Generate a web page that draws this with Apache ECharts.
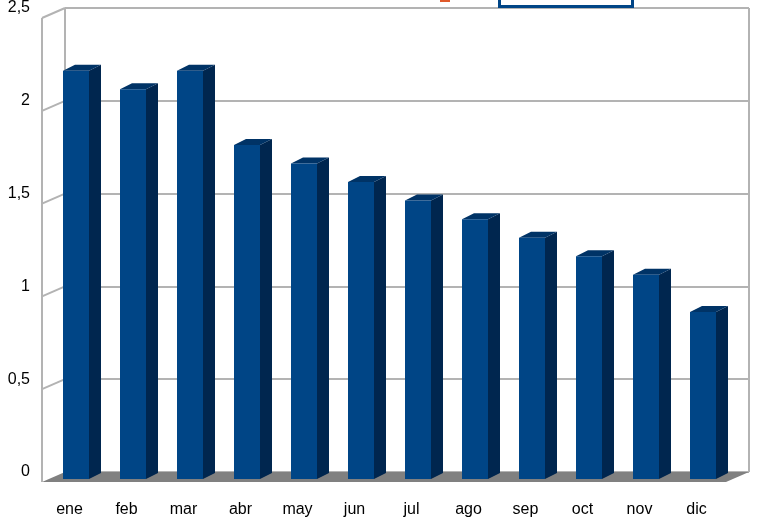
<!DOCTYPE html>
<html><head><meta charset="utf-8">
<script src="https://cdn.jsdelivr.net/npm/echarts@6/dist/echarts.min.js"></script>
<style>html,body{margin:0;padding:0;background:#fff}#c{width:770px;height:527px}</style>
</head><body><div id="c"></div>
<script>
const categories = ['ene','feb','mar','abr','may','jun','jul','ago','sep','oct','nov','dic'];
const values = [2.2,2.1,2.2,1.8,1.7,1.6,1.5,1.4,1.3,1.2,1.1,0.9];
const yTicks = [0,0.5,1,1.5,2,2.5];

const chart = echarts.init(document.getElementById('c'));
const FX = -17.5, FY = 7, HW = 13, DX = 12, DY = -6;
function renderBar(params, api){
  const i = api.value(0), v = api.value(1);
  const p = api.coord([i, v]), p0 = api.coord([i, 0]);
  const cx = p[0] + FX;
  const l = cx - HW, r = cx + HW, t = p[1] + FY, b = p0[1] + FY;
  return {type:'group', children:[
    {type:'polygon', shape:{points:[[r,t],[r+DX,t+DY],[r+DX,b+DY],[r,b]]}, style:{fill:'#00264f'}},
    {type:'polygon', shape:{points:[[l,t],[l+DX,t+DY],[r+DX,t+DY],[r,t]]}, style:{fill:'#003366'}},
    {type:'rect', shape:{x:l, y:t, width:r-l, height:b-t}, style:{fill:'#004586'}}
  ]};
}
chart.setOption({
  animation:false,
  grid:{left:65,right:21,top:7,bottom:55},
  xAxis:{type:'category',data:categories,
    axisLine:{show:false},axisTick:{show:false},
    axisLabel:{color:'#000',fontSize:16,fontFamily:'Liberation Sans',margin:30,padding:[0,48,0,0]}},
  yAxis:{type:'value',min:0,max:2.5,interval:0.5,
    axisLine:{show:false},axisTick:{show:false},
    splitLine:{lineStyle:{color:'#b3b3b3',width:2}},
    axisLabel:{color:'#000',fontSize:16,fontFamily:'Liberation Sans',margin:35,padding:[16,0,0,0],
      formatter:v=>String(v).replace('.',',')}},
  series:[{type:'custom',renderItem:renderBar,data:categories.map((c,i)=>[i,values[i]]),z:5}]
});
const gl = chart.convertToPixel({gridIndex:0},[0,0]);
const L = 65, R = 749, W = 23, H = 10;
const g = [];
const y0 = chart.convertToPixel({yAxisIndex:0},0);
g.push({type:'polygon',shape:{points:[[L,y0],[R,y0],[R-W,y0+H],[L-W,y0+H]]},style:{fill:'#808080'},z:1});
yTicks.forEach(t=>{
  const y = chart.convertToPixel({yAxisIndex:0},t);
  if(t>0) g.push({type:'line',shape:{x1:L-W,y1:y+H,x2:L,y2:y},style:{stroke:'#b3b3b3',lineWidth:2},z:1});
});
const yt = chart.convertToPixel({yAxisIndex:0},2.5);
g.push({type:'line',shape:{x1:L-W,y1:yt+H,x2:L-W,y2:y0+H},style:{stroke:'#b3b3b3',lineWidth:2},z:1});
g.push({type:'line',shape:{x1:L,y1:yt,x2:L,y2:y0},style:{stroke:'#b3b3b3',lineWidth:2},z:1});
g.push({type:'line',shape:{x1:R,y1:yt,x2:R,y2:y0},style:{stroke:'#b3b3b3',lineWidth:2},z:1});
g.push({type:'rect',shape:{x:146,y:-4,width:10,height:6},style:{fill:'#e05a2b'},z:1,left:440,top:-4});
g.push({type:'rect',shape:{x:0,y:0,width:133,height:10},style:{fill:'none',stroke:'#004586',lineWidth:3},left:497,top:-6,z:1});
chart.setOption({graphic:g});
</script></body></html>
